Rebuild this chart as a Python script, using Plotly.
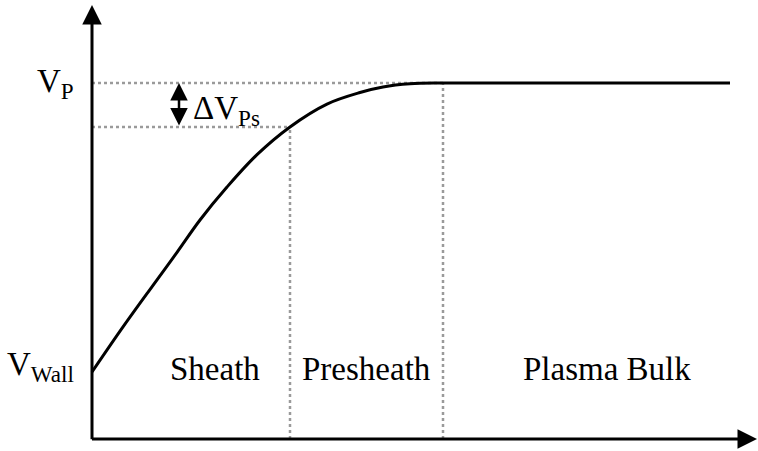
import plotly.graph_objects as go

# Potential profile (normalised: V_wall = 0, V_P = 1), position in arbitrary units
pos = [0, 0.31, 0.61, 0.85, 1.08, 1.35, 1.65, 1.98, 2.35, 2.68, 2.91, 3.18, 3.51, 6.38]
potential = [0, 0.156, 0.300, 0.414, 0.526, 0.640, 0.752, 0.848, 0.927, 0.967, 0.986, 0.997, 1.0, 1.0]

sheath_edge = 1.98
presheath_edge = 3.51
v_sheath_edge = 0.848
v_plasma = 1.0
axis_floor = -0.232
y_top = 1.27
x_end = 6.65

region_labels = ["Sheath", "Presheath", "Plasma Bulk"]
region_x = [1.23, 2.74, 5.15]

FONT = "Liberation Serif"
GRAY = "#9a9a9a"

fig = go.Figure()

fig.add_trace(go.Scatter(x=pos, y=potential, mode="lines",
                         line=dict(color="black", width=3, shape="spline", smoothing=1.0),
                         hoverinfo="skip", showlegend=False))

dot = dict(color=GRAY, width=2.5, dash="dot")
fig.add_shape(type="line", x0=0, x1=presheath_edge, y0=v_plasma, y1=v_plasma, line=dot, layer="below")
fig.add_shape(type="line", x0=0, x1=sheath_edge, y0=v_sheath_edge, y1=v_sheath_edge, line=dot, layer="below")
fig.add_shape(type="line", x0=sheath_edge, x1=sheath_edge, y0=axis_floor, y1=v_sheath_edge, line=dot, layer="below")
fig.add_shape(type="line", x0=presheath_edge, x1=presheath_edge, y0=axis_floor, y1=v_plasma, line=dot, layer="below")

# axes with arrows
fig.add_annotation(x=0, y=y_top, ax=0, ay=axis_floor - 0.006, xref="x", yref="y", axref="x", ayref="y",
                   text="", showarrow=True, arrowhead=2, arrowsize=1.3, arrowwidth=3, arrowcolor="black", standoff=0)
fig.add_annotation(x=x_end, y=axis_floor, ax=-0.015, ay=axis_floor, xref="x", yref="y", axref="x", ayref="y",
                   text="", showarrow=True, arrowhead=2, arrowsize=1.3, arrowwidth=3, arrowcolor="black", standoff=0)

# delta V double arrow
fig.add_annotation(x=0.87, y=v_plasma, ax=0.87, ay=v_sheath_edge, xref="x", yref="y", axref="x", ayref="y",
                   text="", showarrow=True, arrowhead=2, arrowsize=1.4, arrowwidth=2.5, arrowcolor="black",
                   arrowside="end+start", standoff=0, startstandoff=0)

tf = dict(family=FONT, size=33, color="black")
fig.add_annotation(x=-0.16, y=1.0, xref="x", yref="y", text="V<sub>P</sub>", showarrow=False,
                   xanchor="right", yanchor="middle", font=tf)
fig.add_annotation(x=-0.16, y=0.02, xref="x", yref="y", text="V<sub>Wall</sub>", showarrow=False,
                   xanchor="right", yanchor="middle", font=tf)
fig.add_annotation(x=0.99, y=0.905, xref="x", yref="y", text="ΔV<sub>Ps</sub>", showarrow=False,
                   xanchor="left", yanchor="middle", font=tf)

for lab, lx in zip(region_labels, region_x):
    fig.add_annotation(x=lx, y=0.01, xref="x", yref="y", text=lab, showarrow=False,
                       xanchor="center", yanchor="middle", font=tf)

fig.update_layout(width=758, height=451, margin=dict(l=0, r=0, t=0, b=0),
                  paper_bgcolor="white", plot_bgcolor="white",
                  xaxis=dict(range=[-0.92, 6.66], visible=False, fixedrange=True),
                  yaxis=dict(range=[-0.2734, 1.2872], visible=False, fixedrange=True))

fig.write_html("out.html", config={"displayModeBar": False},
               post_script="document.body.style.margin='0';document.body.style.overflow='hidden';")
